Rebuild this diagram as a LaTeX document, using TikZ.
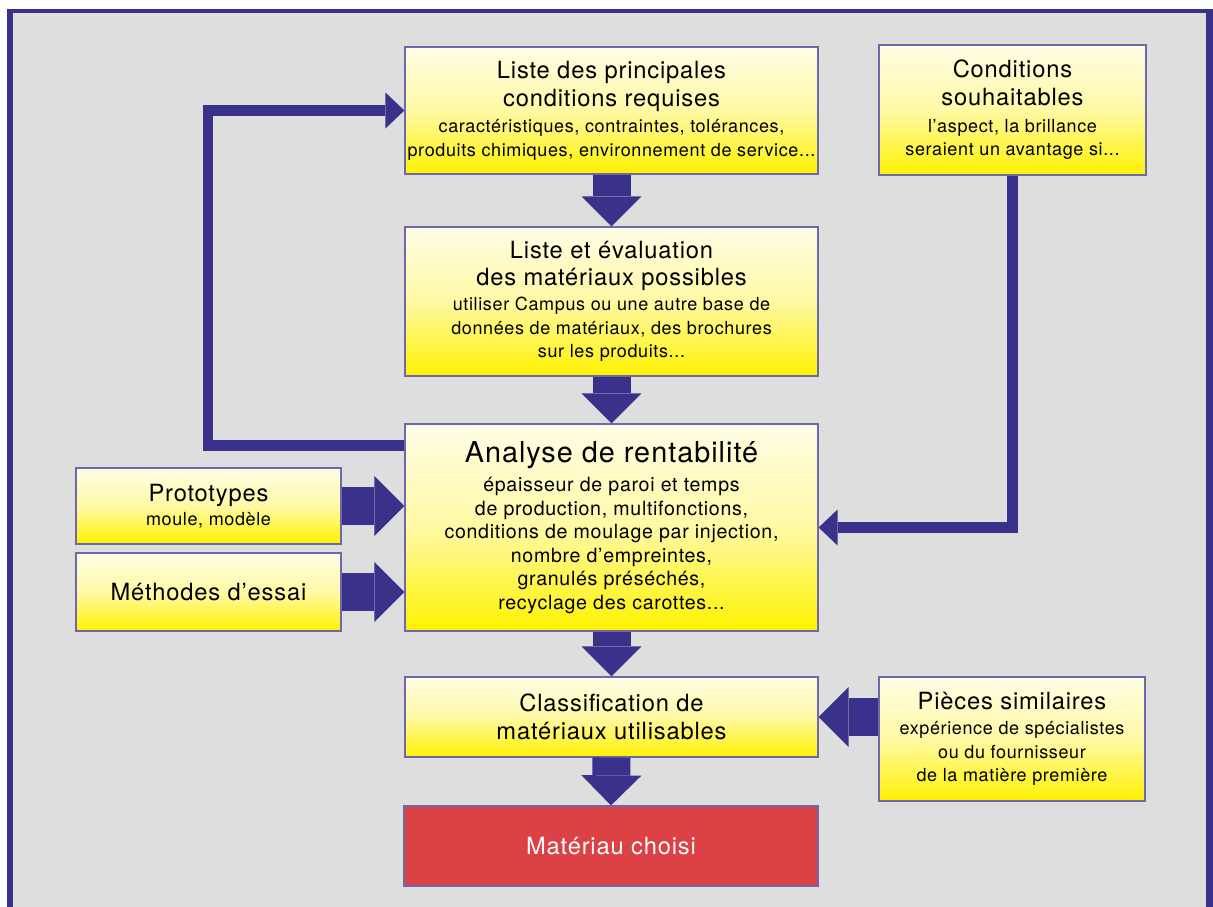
\documentclass[tikz,border=0pt]{standalone}
\usepackage{fontspec}
\setmainfont{TeX Gyre Heros}[LetterSpace=3.5]
\usetikzlibrary{arrows.meta,calc}
\definecolor{navy}{RGB}{58,50,138}
\definecolor{bord}{RGB}{110,103,170}
\definecolor{ylwtop}{RGB}{255,253,230}
\definecolor{ylwmid}{RGB}{255,249,165}
\definecolor{ylwbot}{RGB}{255,242,0}
\definecolor{bgray}{RGB}{222,222,222}
\definecolor{redbox}{RGB}{220,65,70}
\newcommand\boxtitle{\fontsize{23.7}{28}\selectfont}
\newcommand\boxbig{\fontsize{28.8}{32}\selectfont}
\newcommand\boxtext{\fontsize{18}{23.5}\selectfont}
\newcommand\boxtextb{\fontsize{19.6}{23.5}\selectfont}
\begin{document}
\begin{tikzpicture}[x=1pt,y=-1pt,
  box/.style={draw=bord, line width=1.2pt, inner sep=0pt, align=center,
    top color=ylwtop, bottom color=ylwbot, middle color=ylwmid, font=\boxtext},
  redb/.style={draw=bord, line width=1.2pt, inner sep=0pt, align=center,
    fill=redbox, text=white, font=\boxtitle},
  fat/.style={draw=navy, line width=38pt,
    -{Triangle[width=60pt,length=30pt,line width=0pt]}},
  link/.style={draw=navy, line width=10.5pt,
    -{Triangle[width=36pt,length=19pt,line width=0pt]}}
]
\useasboundingbox (0,0) rectangle (1213,907);
\fill[white] (0,0) rectangle (1213,907);
\fill[navy] (7,9.5) rectangle (1213,907);
\fill[bgray] (13.3,12.8) rectangle (1206,907);

\node[box, minimum width=413pt, minimum height=127pt] (b1) at (611.5,110.5)
  {{\boxtitle Liste des principales}\\[4.5pt]
   {\boxtitle conditions requises}\\[3pt]
   caractéristiques, contraintes, tolérances,\\
   produits chimiques, environnement de service...};
\node[box, minimum width=267pt, minimum height=130pt] (b2) at (1012.5,110)
  {{\boxtitle Conditions}\\[4.5pt]
   {\boxtitle souhaitables}\\[3pt]
   l'aspect, la brillance\\
   seraient un avantage si...};
\node[box, minimum width=413pt, minimum height=149pt] (b3) at (611.5,301.5)
  {{\boxtitle Liste et évaluation}\\[3.5pt]
   {\boxtitle des matériaux possibles}\\[2pt]
   utiliser Campus ou une autre base de\\
   données de matériaux, des brochures\\
   sur les produits...};
\node[box, minimum width=413pt, minimum height=207pt, font=\boxtextb] (b4) at (611.5,527.5)
  {{\boxbig Analyse de rentabilité}\\[6pt]
   épaisseur de paroi et temps\\
   de production, multifonctions,\\
   conditions de moulage par injection,\\
   nombre d'empreintes,\\
   granulés préséchés,\\
   recyclage des carottes...};
\node[box, minimum width=265pt, minimum height=76pt] (b5) at (208.5,506)
  {{\boxtitle Prototypes}\\
   moule, modèle};
\node[box, minimum width=265pt, minimum height=78pt] (b6) at (208.5,592)
  {{\boxtitle Méthodes d'essai}};
\node[box, minimum width=413pt, minimum height=80pt] (b7) at (611.5,717)
  {{\boxtitle Classification de}\\[4.5pt]
   {\boxtitle matériaux utilisables}};
\node[box, minimum width=266pt, minimum height=124pt] (b8) at (1012,739)
  {{\boxtitle Pièces similaires}\\[2pt]
   expérience de spécialistes\\
   ou du fournisseur\\
   de la matière première};
\node[redb, minimum width=414pt, minimum height=80pt] (b9) at (611,846)
  {Matériau choisi};

\draw[fat] (b1.south) -- (b3.north);
\draw[fat] (b3.south) -- (b4.north);
\draw[fat] (b4.south) -- (b7.north);
\draw[fat] (b7.south) -- (b9.north);
\draw[fat] (b5.east) -- (b5.east -| b4.west);
\draw[fat] (b6.east) -- (b6.east -| b4.west);
\draw[fat] (b8.west |- b7.east) -- (b7.east);

\coordinate (fbs) at ($(b4.north west)+(0,22)$);
\coordinate (fbx) at (208,446);
\draw[link] (fbs) -| (b1.west -| fbx) -- (b1.west);
\draw[link] (b2.south) |- (b4.east);
\end{tikzpicture}
\end{document}
